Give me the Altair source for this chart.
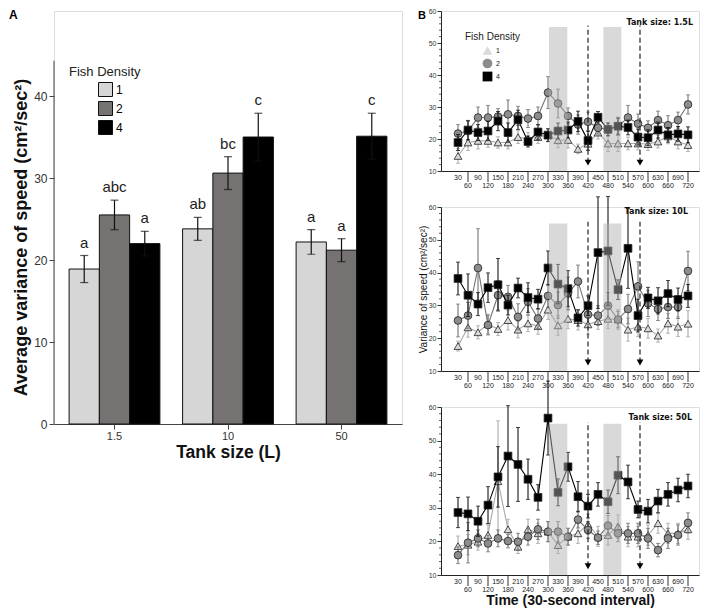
import altair as alt
import pandas as pd

FONT = "Liberation Sans"

# ---------------- Panel A data ----------------
tank_sizes = ["1.5", "10", "50"]
densities = ["1", "2", "4"]
bar_mean_d1 = [18.9, 23.8, 22.2]
bar_mean_d2 = [25.5, 30.6, 21.2]
bar_mean_d4 = [22.0, 35.0, 35.1]
bar_err_d1 = [1.65, 1.4, 1.5]
bar_err_d2 = [1.8, 2.0, 1.4]
bar_err_d4 = [1.5, 2.9, 2.8]
letters_d1 = ["a", "ab", "a"]
letters_d2 = ["abc", "bc", "a"]
letters_d4 = ["a", "c", "c"]
bar_colors = ["#d6d6d6", "#767272", "#000000"]
a_axis_top = 44.3

# ---------------- Panel B data ----------------
times = [30, 60, 90, 120, 150, 180, 210, 240, 270, 300, 330, 360,
         390, 420, 450, 480, 510, 540, 570, 600, 630, 660, 690, 720]
y_minor_ticks = [12, 14, 16, 18, 22, 24, 26, 28, 32, 34, 36, 38,
                 42, 44, 46, 48, 52, 54, 56, 58]

# Tank 1.5 L
t15_d1 = [14.7, 18.9, 19.4, 19.4, 18.9, 18.9, 20.6, 20.0, 20.6, 21.2, 19.6, 19.7,
          16.9, 18.5, 22.0, 18.6, 18.6, 18.6, 18.6, 18.4, 19.2, 20.8, 19.2, 18.1]
t15_d2 = [21.7, 22.5, 26.7, 26.7, 27.0, 27.7, 27.2, 26.4, 27.2, 34.5, 31.1, 27.2,
          24.5, 25.4, 23.5, 23.0, 24.0, 26.7, 24.8, 23.5, 25.9, 24.3, 25.9, 30.8]
t15_d4 = [18.9, 22.8, 22.0, 22.5, 25.6, 22.0, 26.0, 19.2, 22.2, 21.2, 22.5, 22.8,
          25.5, 19.5, 26.8, 23.0, 24.0, 23.6, 20.6, 20.4, 22.8, 21.3, 21.6, 21.3]
t15_e1 = [2.3, 2.5, 2.5, 2.0, 1.8, 2.0, 2.0, 2.0, 2.0, 2.0, 2.3, 2.5,
          1.5, 2.0, 2.0, 2.5, 2.5, 2.0, 2.0, 2.0, 2.0, 2.3, 2.3, 2.0]
t15_e2 = [2.8, 3.0, 3.3, 3.8, 2.5, 4.5, 3.0, 2.8, 2.8, 5.0, 4.5, 2.5,
          3.0, 3.0, 2.0, 2.0, 2.8, 3.8, 3.0, 2.2, 2.8, 3.0, 2.5, 3.0]
t15_e4 = [2.5, 3.0, 2.5, 3.0, 3.0, 3.0, 3.0, 1.7, 2.3, 2.0, 2.5, 2.5,
          3.2, 3.0, 1.8, 2.0, 2.5, 2.3, 2.5, 2.5, 2.5, 2.3, 2.3, 2.5]

# Tank 10 L
t10_d1 = [17.6, 23.3, 21.8, 24.3, 22.8, 25.5, 22.6, 24.5, 23.7, 28.7, 23.9, 25.9,
          25.5, 24.2, 25.2, 25.9, 25.7, 22.6, 23.5, 23.0, 20.8, 24.5, 23.5, 24.4]
t10_d2 = [25.4, 26.9, 41.4, 24.0, 33.1, 32.6, 26.5, 31.1, 26.0, 32.9, 30.1, 33.6,
          37.3, 27.2, 26.9, 29.9, 25.7, 28.9, 35.8, 30.6, 28.9, 29.5, 29.5, 40.5]
t10_d4 = [38.2, 33.1, 30.4, 35.4, 36.3, 30.1, 35.3, 32.4, 31.9, 41.4, 36.5, 35.1,
          26.2, 29.9, 46.1, 46.6, 34.8, 47.4, 26.9, 32.3, 31.4, 33.6, 31.8, 32.9]
t10_e1 = [1.5, 3.0, 2.0, 3.0, 2.0, 3.0, 2.5, 2.5, 2.5, 3.0, 3.0, 3.0,
          3.0, 3.0, 2.5, 3.0, 3.0, 3.5, 3.0, 3.0, 2.0, 3.0, 3.0, 4.0]
t10_e2 = [5.0, 4.0, 12.0, 3.0, 4.5, 3.5, 4.0, 4.0, 3.0, 3.5, 4.0, 5.0,
          5.0, 3.0, 3.0, 4.0, 2.5, 4.5, 7.5, 4.0, 3.5, 3.5, 3.5, 6.0]
t10_e4 = [5.0, 6.5, 3.5, 4.5, 8.0, 3.0, 3.0, 4.5, 3.0, 5.2, 6.0, 5.5,
          2.5, 3.0, 17.0, 16.6, 3.0, 12.2, 5.0, 3.2, 4.0, 4.0, 3.5, 3.5]

# Tank 50 L
t50_d1 = [18.6, 19.0, 19.9, 21.9, 37.9, 23.6, 18.4, 23.6, 22.4, 22.9, 18.9, 21.4,
          22.4, 25.1, 21.5, 21.9, 24.4, 21.4, 21.4, 21.9, 25.4, 22.4, 22.4, 23.6]
t50_d2 = [15.9, 19.6, 20.9, 19.4, 20.9, 20.1, 19.9, 21.4, 23.6, 22.9, 22.9, 21.4,
          26.5, 23.4, 21.1, 24.7, 22.4, 22.4, 22.4, 20.9, 17.4, 20.9, 21.9, 25.5]
t50_d4 = [28.6, 28.2, 26.0, 30.8, 39.2, 45.4, 42.9, 38.5, 33.1, 56.7, 34.6, 42.2,
          33.3, 30.5, 34.0, 31.8, 39.7, 37.7, 29.5, 29.0, 32.0, 34.0, 35.3, 36.5]
t50_e1 = [3.0, 3.0, 2.5, 3.0, 18.0, 3.0, 2.0, 3.0, 3.0, 3.0, 2.5, 2.5,
          3.0, 3.0, 3.0, 3.0, 3.5, 3.0, 3.0, 3.0, 3.0, 3.0, 3.0, 3.0]
t50_e2 = [2.5, 6.0, 2.5, 2.5, 2.5, 2.0, 2.5, 2.5, 3.0, 3.0, 3.0, 2.5,
          2.5, 2.5, 2.0, 3.0, 2.5, 3.0, 3.0, 3.0, 2.0, 3.0, 3.0, 3.0]
t50_e4 = [4.5, 5.0, 4.5, 5.5, 9.0, 15.0, 11.0, 6.0, 3.8, 11.0, 4.0, 4.3,
          4.5, 3.5, 3.5, 3.5, 5.5, 5.0, 2.5, 3.5, 3.5, 3.5, 3.5, 3.5]

shade_start = [303, 466]
shade_end = [358, 520]
shade_bottom = [10, 10]
shade_top = [55, 55]
event_times = [420, 576]
event_top = [55.5, 55.5]
event_tip = [12.6, 12.6]

point_shapes = ["triangle-up", "circle", "square"]
point_fills = ["#dadada", "#8c8c8c", "#000000"]
line_colors = ["#a9a9a9", "#727272", "#000000"]
err_colors = ["#a0a0a0", "#666666", "#000000"]

# ---------------- Panel A chart ----------------
rows = []
for d, means, errs, lets in zip(densities,
                                [bar_mean_d1, bar_mean_d2, bar_mean_d4],
                                [bar_err_d1, bar_err_d2, bar_err_d4],
                                [letters_d1, letters_d2, letters_d4]):
    for t, m, e, l in zip(tank_sizes, means, errs, lets):
        rows.append(dict(tank=t, density=d, mean=m, lo=m - e, hi=m + e, letter=l))
dfA = pd.DataFrame(rows)

A_W, A_H = 348, 413
yA_scale = alt.Scale(domain=[0, 50.37], nice=False, zero=True)
xA = alt.X("tank:N", sort=tank_sizes,
           scale=alt.Scale(paddingInner=0.2, paddingOuter=0.133),
           axis=alt.Axis(title="Tank size (L)", labelAngle=0, labelFontSize=11,
                         labelColor="#333", tickSize=5, tickColor="#444",
                         domainColor="#444", labelPadding=1, titleFontSize=17.5,
                         titleFontWeight="bold", titlePadding=2, titleColor="#111",
                         labelFont=FONT, titleFont=FONT))
xoffA = alt.XOffset("density:N", sort=densities,
                    scale=alt.Scale(paddingInner=0, paddingOuter=0))
yA = alt.Y("mean:Q", scale=yA_scale,
           axis=alt.Axis(title="Average variance of speed (cm²/sec²)", values=[0, 10, 20, 30, 40],
                         domain=False, tickSize=5, tickColor="#444", labelFontSize=12,
                         labelColor="#333", labelPadding=2, titleFontSize=18,
                         titleFontWeight="bold", titlePadding=3, titleY=226,
                         titleColor="#111", grid=False, labelFont=FONT, titleFont=FONT))

baseA = alt.Chart(dfA)
bars = baseA.mark_bar(stroke="#111", strokeWidth=1).encode(
    x=xA, xOffset=xoffA, y=yA,
    fill=alt.Fill("density:N", sort=densities,
                  scale=alt.Scale(domain=densities, range=bar_colors),
                  legend=alt.Legend(title=None, orient="none", legendX=44, legendY=71,
                                    symbolType="square", symbolSize=196,
                                    symbolStrokeColor="#111", symbolStrokeWidth=1,
                                    symbolOpacity=1, labelFontSize=12, labelFont=FONT,
                                    rowPadding=0, labelOffset=3, padding=0)))
errA = baseA.mark_rule(color="#111", strokeWidth=1.2).encode(
    x=xA, xOffset=xoffA, y=alt.Y("lo:Q", scale=yA_scale), y2="hi:Q")
capA_hi = baseA.mark_tick(color="#111", orient="horizontal", size=8, thickness=1.2).encode(
    x=xA, xOffset=xoffA, y=alt.Y("hi:Q", scale=yA_scale))
capA_lo = baseA.mark_tick(color="#111", orient="horizontal", size=8, thickness=1.2).encode(
    x=xA, xOffset=xoffA, y=alt.Y("lo:Q", scale=yA_scale))
lettersA = baseA.mark_text(baseline="bottom", dy=-5, fontSize=15, font=FONT,
                           color="#222").encode(
    x=xA, xOffset=xoffA, y=alt.Y("hi:Q", scale=yA_scale), text="letter:N")
axis_line = alt.Chart(pd.DataFrame({"bottom": [0], "top": [a_axis_top]})).mark_rule(
    color="#444", strokeWidth=1).encode(
    x=alt.value(0), y=alt.Y("bottom:Q", scale=yA_scale), y2="top:Q")
fish_title_A = alt.Chart(pd.DataFrame({"t": ["Fish Density"]})).mark_text(
    align="left", baseline="middle", fontSize=13, font=FONT, color="#222").encode(
    x=alt.value(15), y=alt.value(61), text="t:N")
label_A = alt.Chart(pd.DataFrame({"t": ["A"]})).mark_text(
    align="left", baseline="top", fontSize=12, fontWeight="bold", font=FONT,
    color="#000").encode(x=alt.value(-45), y=alt.value(-1), text="t:N")

panelA = alt.layer(bars, errA, capA_hi, capA_lo, lettersA, axis_line,
                   fish_title_A, label_A).properties(width=A_W, height=A_H)

# ---------------- Panel B charts ----------------
B_W = 258
xsB = alt.Scale(domain=[-21, 753], nice=False, zero=False)
ysB = alt.Scale(domain=[10, 60], nice=False, zero=False)


def panel_B(vals, errs, H, tank_text, tank_x, tank_y, legend_on, ytitle, xtitle, letter):
    xax = alt.Axis(labels=False, ticks=False, grid=False, domainColor="#222",
                   titleFontSize=14, titleFontWeight="bold", titlePadding=18,
                   titleFont=FONT, titleColor="#111")
    yax = alt.Axis(values=[10, 20, 30, 40, 50, 60], tickSize=4, tickColor="#333",
                   domainColor="#222", labelFontSize=7, labelPadding=1,
                   labelColor="#333", grid=False, titleFontSize=10,
                   titleFontWeight="normal", titlePadding=0, titleFont=FONT,
                   labelFont=FONT, titleColor="#111")

    def X(f):
        return alt.X(f, scale=xsB, axis=xax, title=xtitle)

    def Y(f):
        return alt.Y(f, scale=ysB, axis=yax, title=ytitle)

    if legend_on:
        leg = alt.Legend(title=None, orient="none", legendX=41, legendY=34,
                         symbolSize=95, labelFontSize=7, labelFont=FONT, rowPadding=0,
                         padding=0, symbolStrokeColor="#222", symbolStrokeWidth=0.8,
                         labelOffset=3, labelColor="#222")
    else:
        leg = None

    layers = []
    shade_df = pd.DataFrame({"start": shade_start, "end": shade_end,
                             "bottom": shade_bottom, "top": shade_top})
    for d, v, e, lc, ec in zip(densities, vals, errs, line_colors, err_colors):
        df = pd.DataFrame({"time": times, "density": d, "value": v,
                           "lo": [a - b for a, b in zip(v, e)],
                           "hi": [a + b for a, b in zip(v, e)]})
        base = alt.Chart(df)
        layers.append(base.mark_line(color=lc, strokeWidth=1.1).encode(
            x=X("time:Q"), y=Y("value:Q")))
        layers.append(base.mark_rule(color=ec, strokeWidth=1).encode(
            x=X("time:Q"), y=Y("lo:Q"), y2="hi:Q"))
        layers.append(base.mark_tick(color=ec, orient="horizontal", size=4,
                                     thickness=1).encode(x=X("time:Q"), y=Y("hi:Q")))
        layers.append(base.mark_tick(color=ec, orient="horizontal", size=4,
                                     thickness=1).encode(x=X("time:Q"), y=Y("lo:Q")))
        layers.append(base.mark_point(filled=True, size=60, stroke="#222",
                                      strokeWidth=0.8, opacity=1).encode(
            x=X("time:Q"), y=Y("value:Q"),
            shape=alt.Shape("density:N", sort=densities,
                            scale=alt.Scale(domain=densities, range=point_shapes),
                            legend=leg),
            fill=alt.Fill("density:N", sort=densities,
                          scale=alt.Scale(domain=densities, range=point_fills),
                          legend=leg)))

    layers.append(alt.Chart(shade_df).mark_rect(fill="#b0b0b0", opacity=0.48).encode(
        x=X("start:Q"), x2="end:Q", y=Y("bottom:Q"), y2="top:Q"))

    ev_df = pd.DataFrame({"time": event_times, "top": event_top, "tip": event_tip})
    layers.append(alt.Chart(ev_df).mark_rule(color="#222", strokeWidth=1.2,
                                             strokeDash=[5, 3]).encode(
        x=X("time:Q"), y=Y("tip:Q"), y2="top:Q"))
    layers.append(alt.Chart(ev_df).mark_point(shape="triangle-down", filled=True,
                                              size=45, color="#000", opacity=1).encode(
        x=X("time:Q"), y=Y("tip:Q")))

    minor_df = pd.DataFrame({"v": y_minor_ticks})
    layers.append(alt.Chart(minor_df).mark_rule(color="#333", strokeWidth=0.8).encode(
        y=Y("v:Q"), x=alt.value(-2), x2=alt.value(0)))

    tick_df = pd.DataFrame({"time": times, "label": [str(t) for t in times],
                            "row": [i % 2 for i in range(len(times))]})
    upper = tick_df[tick_df["row"] == 0]
    lower = tick_df[tick_df["row"] == 1]
    layers.append(alt.Chart(upper).mark_text(fontSize=7, font=FONT, color="#222",
                                             baseline="middle").encode(
        x=X("time:Q"), y=alt.value(H + 7), text="label:N"))
    layers.append(alt.Chart(lower).mark_text(fontSize=7, font=FONT, color="#222",
                                             baseline="middle").encode(
        x=X("time:Q"), y=alt.value(H + 15), text="label:N"))
    layers.append(alt.Chart(lower).mark_rule(color="#333", strokeWidth=1).encode(
        x=X("time:Q"), y=alt.value(H), y2=alt.value(H + 11)))

    txt = pd.DataFrame({"t": [tank_text]})
    layers.append(alt.Chart(txt).mark_text(align="right", baseline="middle", fontSize=8,
                                           fontWeight="bold", font="DejaVu Sans",
                                           color="#111").encode(
        x=alt.value(tank_x), y=alt.value(tank_y), text="t:N"))
    if legend_on:
        layers.append(alt.Chart(pd.DataFrame({"t": ["Fish Density"]})).mark_text(
            align="left", baseline="middle", fontSize=10, font=FONT,
            color="#222").encode(x=alt.value(24), y=alt.value(26), text="t:N"))
    if letter:
        layers.append(alt.Chart(pd.DataFrame({"t": [letter]})).mark_text(
            align="left", baseline="top", fontSize=11, fontWeight="bold", font=FONT,
            color="#000").encode(x=alt.value(-23), y=alt.value(-1), text="t:N"))
    return alt.layer(*layers).properties(width=B_W, height=H)


B1 = panel_B([t15_d1, t15_d2, t15_d4], [t15_e1, t15_e2, t15_e4], 160,
             "Tank size: 1.5L", 252, 12, True, None, None, "B")
B2 = panel_B([t10_d1, t10_d2, t10_d4], [t10_e1, t10_e2, t10_e4], 164,
             "Tank size: 10L", 247, 5, False, "Variance of speed (cm²/sec²)", None, None)
B3 = panel_B([t50_d1, t50_d2, t50_d4], [t50_e1, t50_e2, t50_e4], 168,
             "Tank size: 50L", 251, 11, False, None, "Time (30-second interval)", None)

panelB = alt.vconcat(B1, B2, B3, spacing=36, bounds="flush").resolve_scale(
    fill="independent", shape="independent")

chart = alt.hconcat(panelA, panelB, spacing=39, bounds="flush").resolve_scale(
    fill="independent").properties(
    padding={"left": 0, "top": -2, "right": 0, "bottom": 0}
).configure_view(stroke=None).configure(font=FONT)

chart.save("out.html", embed_options={"renderer": "svg", "actions": False})
